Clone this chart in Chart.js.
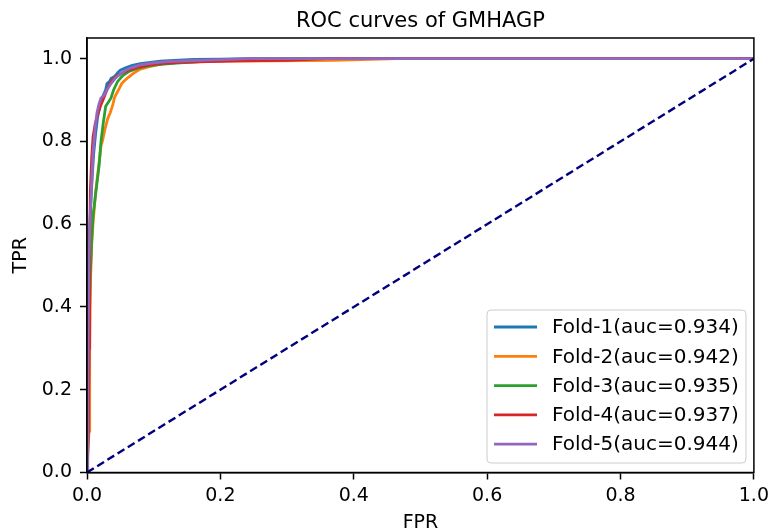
<!DOCTYPE html>
<html>
<head>
<meta charset="utf-8">
<script src="https://cdn.jsdelivr.net/npm/chart.js@4/dist/chart.umd.min.js"></script>
<style>
html,body{margin:0;padding:0;background:#fff;}
#wrap{width:774px;height:531px;}
</style>
</head>
<body>
<div id="wrap"><canvas id="c" width="774" height="531"></canvas></div>
<script>
const chartTitle = 'ROC curves of GMHAGP';
const xAxisLabel = 'FPR';
const yAxisLabel = 'TPR';
const foldLabels = ['Fold-1(auc=0.934)','Fold-2(auc=0.942)','Fold-3(auc=0.935)','Fold-4(auc=0.937)','Fold-5(auc=0.944)'];
const foldColors = ['#1f77b4','#ff7f0e','#2ca02c','#d62728','#9467bd'];
const xTickValues = [0,0.2,0.4,0.6,0.8,1.0];
const xTickLabels = ['0.0','0.2','0.4','0.6','0.8','1.0'];
const yTickValues = [0,0.2,0.4,0.6,0.8,1.0];
const yTickLabels = ['0.0','0.2','0.4','0.6','0.8','1.0'];

const fold1Fpr = [0,0.001,0.002,0.003,0.004,0.006,0.008,0.010,0.013,0.016,0.020,0.024,0.028,0.030,0.034,0.036,0.042,0.046,0.050,0.058,0.068,0.080,0.095,0.110,0.130,0.160,0.200,0.240,1.0];
const fold1Tpr = [0,0.12,0.35,0.50,0.58,0.66,0.72,0.77,0.82,0.86,0.89,0.91,0.925,0.94,0.945,0.952,0.958,0.966,0.972,0.978,0.984,0.988,0.991,0.994,0.996,0.998,0.999,1.0,1.0];

const fold2Fpr = [0,0.003,0.004,0.005,0.007,0.009,0.011,0.013,0.016,0.019,0.021,0.023,0.027,0.031,0.035,0.039,0.041,0.044,0.049,0.052,0.055,0.062,0.070,0.080,0.092,0.105,0.120,0.140,0.170,0.210,0.280,0.370,0.464,1.0];
const fold2Tpr = [0,0.10,0.30,0.45,0.55,0.60,0.64,0.68,0.72,0.76,0.79,0.80,0.83,0.855,0.87,0.89,0.905,0.915,0.93,0.94,0.945,0.955,0.965,0.975,0.98,0.985,0.99,0.992,0.993,0.994,0.995,0.996,1.0,1.0];

const fold3Fpr = [0,0.002,0.003,0.005,0.007,0.009,0.012,0.015,0.018,0.021,0.024,0.028,0.032,0.036,0.040,0.046,0.054,0.064,0.078,0.095,0.115,0.140,0.190,0.274,1.0];
const fold3Tpr = [0,0.12,0.32,0.48,0.56,0.62,0.66,0.70,0.74,0.80,0.84,0.885,0.895,0.905,0.925,0.945,0.960,0.970,0.978,0.983,0.987,0.990,0.995,1.0,1.0];

const fold4Fpr = [0,0.002,0.003,0.004,0.005,0.007,0.009,0.012,0.016,0.020,0.024,0.030,0.036,0.044,0.052,0.062,0.075,0.090,0.110,0.140,0.180,0.230,0.300,0.360,1.0];
const fold4Tpr = [0,0.10,0.30,0.55,0.68,0.76,0.81,0.84,0.865,0.885,0.90,0.925,0.945,0.957,0.965,0.972,0.979,0.984,0.988,0.991,0.993,0.995,0.996,1.0,1.0];

const fold5Fpr = [0,0.001,0.002,0.003,0.005,0.007,0.009,0.012,0.015,0.018,0.021,0.025,0.030,0.036,0.042,0.050,0.058,0.066,0.080,0.100,0.120,0.150,0.190,0.245,1.0];
const fold5Tpr = [0,0.15,0.38,0.52,0.63,0.70,0.77,0.83,0.87,0.89,0.905,0.91,0.925,0.94,0.952,0.963,0.972,0.978,0.985,0.990,0.993,0.995,0.997,1.0,1.0];

const diagFpr = [0,1];
const diagTpr = [0,1];

const foldFprs = [fold1Fpr,fold2Fpr,fold3Fpr,fold4Fpr,fold5Fpr];
const foldTprs = [fold1Tpr,fold2Tpr,fold3Tpr,fold4Tpr,fold5Tpr];

const FONT = "'DejaVu Sans', sans-serif";
const toPts = (xs, ys) => xs.map((x, i) => ({x: x, y: ys[i]}));

const datasets = foldLabels.map((lab, i) => ({
  label: lab,
  data: toPts(foldFprs[i], foldTprs[i]),
  borderColor: foldColors[i],
  backgroundColor: foldColors[i],
  borderWidth: 2.8,
  pointRadius: 0,
  showLine: true,
  fill: false,
  tension: 0,
  order: 6 - i
}));
datasets.push({
  label: 'diag',
  data: toPts(diagFpr, diagTpr),
  borderColor: '#000080',
  borderWidth: 2.4,
  borderDash: [8, 4],
  pointRadius: 0,
  showLine: true,
  fill: false,
  order: 0
});

const framePlugin = {
  id: 'frame',
  afterDatasetsDraw(chart) {
    const {ctx, chartArea: a} = chart;
    ctx.save();
    ctx.strokeStyle = '#000';
    ctx.lineWidth = 1.5;
    ctx.strokeRect(a.left, a.top, a.right - a.left, a.bottom - a.top);
    ctx.restore();
  }
};

const legendPlugin = {
  id: 'boxLegend',
  afterDraw(chart) {
    const {ctx} = chart;
    const bx = 487, by = 310, bw = 259, bh = 153, r = 4;
    ctx.save();
    ctx.beginPath();
    ctx.moveTo(bx + r, by);
    ctx.arcTo(bx + bw, by, bx + bw, by + bh, r);
    ctx.arcTo(bx + bw, by + bh, bx, by + bh, r);
    ctx.arcTo(bx, by + bh, bx, by, r);
    ctx.arcTo(bx, by, bx + bw, by, r);
    ctx.closePath();
    ctx.fillStyle = 'rgba(255,255,255,0.8)';
    ctx.fill();
    ctx.strokeStyle = '#cccccc';
    ctx.lineWidth = 1;
    ctx.stroke();
    ctx.font = '20px ' + FONT;
    ctx.textBaseline = 'middle';
    ctx.textAlign = 'left';
    foldLabels.forEach((lab, i) => {
      const y = 327 + i * 29.3;
      ctx.strokeStyle = foldColors[i];
      ctx.lineWidth = 2.8;
      ctx.beginPath();
      ctx.moveTo(494, y);
      ctx.lineTo(537, y);
      ctx.stroke();
      ctx.fillStyle = '#000';
      ctx.fillText(lab, 552, y + 1);
    });
    ctx.restore();
  }
};

new Chart(document.getElementById('c'), {
  type: 'scatter',
  data: {datasets: datasets},
  plugins: [framePlugin, legendPlugin],
  options: {
    responsive: false,
    animation: false,
    events: [],
    layout: {padding: {left: 0, right: 19, top: 0, bottom: 0}},
    plugins: {
      legend: {display: false},
      tooltip: {enabled: false},
      title: {
        display: true,
        text: chartTitle,
        fullSize: false,
        color: '#000',
        font: {family: FONT, size: 21, weight: 'normal', lineHeight: 1.2},
        padding: {top: 9, bottom: 3.8}
      }
    },
    scales: {
      x: {
        type: 'linear',
        min: 0, max: 1,
        afterFit(s) { s.height = 58.5; },
        afterBuildTicks(s) { s.ticks = xTickValues.map(v => ({value: v})); },
        ticks: {
          color: '#000',
          font: {family: FONT, size: 19},
          padding: 5,
          maxRotation: 0,
          callback: (v, i) => xTickLabels[i]
        },
        grid: {drawOnChartArea: false, drawTicks: true, tickLength: 7, tickWidth: 1.5, tickColor: '#000'},
        border: {display: true, color: '#000', width: 1.5},
        title: {
          display: true, text: xAxisLabel, color: '#000',
          font: {family: FONT, size: 19, lineHeight: 0.8},
          padding: {top: 0, bottom: 0}
        }
      },
      y: {
        type: 'linear',
        min: 0, max: 1.05,
        afterFit(s) { s.width = 87; },
        afterBuildTicks(s) { s.ticks = yTickValues.map(v => ({value: v})); },
        ticks: {
          color: '#000',
          font: {family: FONT, size: 19},
          padding: 8,
          callback: (v, i) => yTickLabels[i]
        },
        grid: {drawOnChartArea: false, drawTicks: true, tickLength: 7, tickWidth: 1.5, tickColor: '#000'},
        border: {display: true, color: '#000', width: 1.5},
        title: {
          display: true, text: yAxisLabel, color: '#000',
          font: {family: FONT, size: 19, lineHeight: 1.2},
          padding: {top: 10, bottom: 0}
        }
      }
    }
  }
});
</script>
</body>
</html>
